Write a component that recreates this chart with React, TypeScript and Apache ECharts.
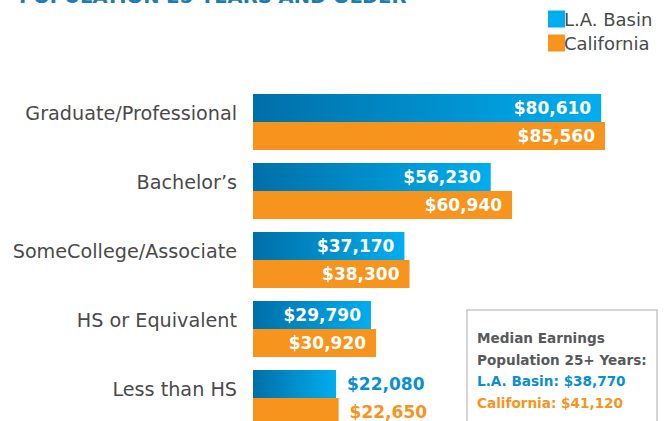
import React, { useEffect, useRef } from "react";
import * as echarts from "echarts";

const categories = [
  "Graduate/Professional",
  "Bachelor’s",
  "SomeCollege/Associate",
  "HS or Equivalent",
  "Less than HS",
];
const laBasin = [80610, 56230, 37170, 29790, 22080];
const california = [85560, 60940, 38300, 30920, 22650];
const seriesNames = ["L.A. Basin", "California"];
const medianLabels = ["L.A. Basin: $38,770", "California: $41,120"];
const titleText = "POPULATION 25 YEARS AND OLDER";

const BLUE = "#00aeef";
const BLUE_DARK = "#006fa8";
const BLUE_TEXT = "#0a8fd2";
const ORANGE = "#f7941d";
const GRAY = "#4a4a4a";

const fmt = (v: number) => "$" + v.toLocaleString("en-US");

export default function App() {
  const ref = useRef<HTMLDivElement>(null);
  useEffect(() => {
    if (!ref.current) return;
    const chart = echarts.init(ref.current, null, { renderer: "svg" });
    const lastIdx = categories.length - 1;
    const mkData = (vals: number[], color: string) =>
      vals.map((v, i) =>
        i === lastIdx
          ? { value: v, label: { position: "right", distance: 11, color } }
          : { value: v }
      );
    const blueGrad = new echarts.graphic.LinearGradient(0, 0, 1, 0, [
      { offset: 0, color: BLUE_DARK },
      { offset: 1, color: BLUE },
    ]);
    const labelBase = {
      show: true,
      position: "insideRight",
      distance: 10,
      color: "#ffffff",
      fontFamily: "DejaVu Sans",
      fontWeight: "bold",
      fontSize: 17,
      formatter: (p: any) => fmt(p.value),
    };
    chart.setOption({
      animation: false,
      textStyle: { fontFamily: "DejaVu Sans" },
      legend: {
        orient: "vertical",
        left: 543,
        top: 5,
        itemWidth: 17,
        itemHeight: 17,
        itemGap: 6,
        icon: "rect",
        textStyle: { fontSize: 18, color: GRAY, fontFamily: "DejaVu Sans", padding: [0, 0, 0, -6] },
        data: [
          { name: seriesNames[0], itemStyle: { color: BLUE } },
          { name: seriesNames[1], itemStyle: { color: ORANGE } },
        ],
      },
      grid: { left: 253, width: 352, top: 87.5, height: 345, containLabel: false },
      xAxis: {
        type: "value",
        min: 3750,
        max: 81450,
        show: false,
      },
      yAxis: {
        type: "category",
        data: categories,
        inverse: true,
        axisLine: { show: false },
        axisTick: { show: false },
        splitLine: { show: false },
        axisLabel: {
          margin: 16,
          fontSize: 19.2,
          color: GRAY,
          fontFamily: "DejaVu Sans",
          verticalAlign: "bottom",
          lineHeight: 18,
        },
      },
      series: [
        {
          name: seriesNames[0],
          type: "bar",
          data: mkData(laBasin, BLUE_TEXT),
          itemStyle: { color: blueGrad },
          barGap: "0%",
          barCategoryGap: "19%",
          clip: true,
          label: labelBase,
        },
        {
          name: seriesNames[1],
          type: "bar",
          data: mkData(california, ORANGE),
          itemStyle: { color: ORANGE },
          barGap: "0%",
          barCategoryGap: "19%",
          clip: true,
          label: labelBase,
        },
      ],
      graphic: [
        {
          type: "text",
          left: 19,
          top: -14,
          style: {
            text: titleText,
            fill: "#1a7db5",
            font: "bold 19.5px DejaVu Sans",
          },
        },
        {
          type: "rect",
          shape: { x: 467, y: 310, width: 190, height: 140 },
          style: { fill: "#ffffff", stroke: "#c8c8c8", lineWidth: 1.5 },
        },
        {
          type: "text",
          x: 477,
          y: 338,
          style: { text: "Median Earnings", fill: "#58595b", font: "bold 13.6px DejaVu Sans", verticalAlign: "middle" },
        },
        {
          type: "text",
          x: 477,
          y: 359.5,
          style: { text: "Population 25+ Years:", fill: "#58595b", font: "bold 13.6px DejaVu Sans", verticalAlign: "middle" },
        },
        {
          type: "text",
          x: 477,
          y: 381,
          style: { text: medianLabels[0], fill: BLUE_TEXT, font: "bold 13.6px DejaVu Sans", verticalAlign: "middle" },
        },
        {
          type: "text",
          x: 477,
          y: 402.5,
          style: { text: medianLabels[1], fill: ORANGE, font: "bold 13.6px DejaVu Sans", verticalAlign: "middle" },
        },
      ],
    });
    return () => chart.dispose();
  }, []);
  return (
    <div
      ref={ref}
      style={{ position: "fixed", left: 0, top: 0, width: 665, height: 445, background: "#fff" }}
    />
  );
}
